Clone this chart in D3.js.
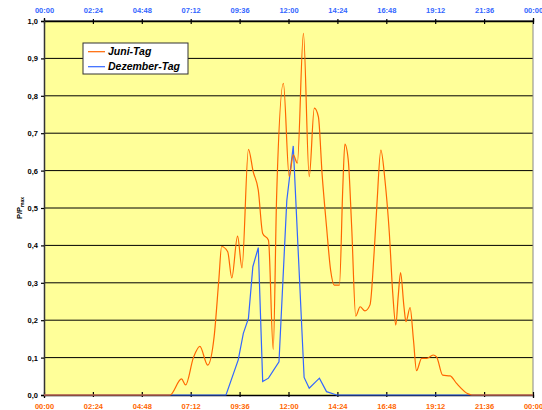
<!DOCTYPE html>
<html>
<head>
<meta charset="utf-8">
<script src="https://cdn.jsdelivr.net/npm/d3@7"></script>
<style>
  body { margin: 0; background: #fff; }
  text { font-family: "Liberation Sans", Arial, sans-serif; }
</style>
</head>
<body>
<div class="chart"></div>
<script>
// tick labels
const xTicks = ["00:00","02:24","04:48","07:12","09:36","12:00","14:24","16:48","19:12","21:36","00:00"]
const yTicks = [0, 0.1, 0.2, 0.3, 0.4, 0.5, 0.6, 0.7, 0.8, 0.9, 1.0]

// Juni-Tag (time of day, P/Pmax)
const juniTimes = ["00:00","06:11","06:45","06:57","07:20","07:39","08:02","08:21","08:35","08:43","09:01","09:13","09:30","09:43",
  "10:02","10:16","10:31","10:44","11:01","11:15","11:25","11:45","12:02","12:14","12:26","12:44","13:01","13:16","13:28",
  "13:39","13:52","14:04","14:15","14:30","14:40","14:46","14:56","15:06","15:18","15:31","15:45","16:00","16:12","16:20",
  "16:32","16:44","16:57","17:07","17:16","17:23","17:30","17:40","17:46","17:58","18:08","18:17","18:32","18:47","19:06",
  "19:16","19:34","19:56","20:15","20:49","21:00","24:00"]
const juniValues = [0, 0, 0.043, 0.027, 0.10, 0.13, 0.08, 0.156, 0.31, 0.397, 0.383, 0.313, 0.425, 0.34,
  0.657, 0.597, 0.548, 0.432, 0.414, 0.122, 0.53, 0.833, 0.584, 0.642, 0.62, 0.967, 0.584, 0.767, 0.744,
  0.59, 0.45, 0.334, 0.294, 0.294, 0.557, 0.671, 0.628, 0.45, 0.211, 0.236, 0.225, 0.241, 0.379, 0.503,
  0.655, 0.575, 0.432, 0.272, 0.187, 0.263, 0.327, 0.236, 0.196, 0.234, 0.147, 0.065, 0.098, 0.098, 0.107,
  0.102, 0.053, 0.051, 0.031, 0.003, 0, 0]

// Dezember-Tag
const dezTimes = ["00:00","08:56","09:32","09:47","10:02","10:15","10:31","10:44","11:01","11:32","11:55","12:14",
  "12:46","13:01","13:31","13:52","14:22","24:00"]
const dezValues = [0, 0, 0.094, 0.165, 0.205, 0.343, 0.394, 0.036, 0.045, 0.089, 0.52, 0.666,
  0.047, 0.018, 0.045, 0.009, 0, 0]

const hours = s => { const [h, m] = s.split(":").map(Number); return h + m / 60 }
const juni = juniTimes.map((t, i) => ({t: hours(t), v: juniValues[i]}))
const dez = dezTimes.map((t, i) => ({t: hours(t), v: dezValues[i]}))

const margin = {top: 21, right: 9, bottom: 15, left: 44}
const width = 542 - margin.left - margin.right
const height = 410 - margin.top - margin.bottom

const svg = d3.select(".chart").append("svg")
    .attr("width", 542)
    .attr("height", 410)
  .append("g")
    .attr("transform", `translate(${margin.left},${margin.top})`)

const x = d3.scaleLinear().domain([0, 24]).range([0, width])
const y = d3.scaleLinear().domain([0, 1]).range([height, 0])

svg.append("rect")
    .attr("width", width)
    .attr("height", height)
    .attr("fill", "#ffff99")

// grid
svg.selectAll(".grid")
    .data(yTicks.slice(1))
    .join("line")
    .attr("class", "grid")
    .attr("x1", 0).attr("x2", width)
    .attr("y1", d => y(d)).attr("y2", d => y(d))
    .attr("stroke", "#000")
    .attr("stroke-width", 1)

// right border
svg.append("line")
    .attr("x1", width).attr("x2", width)
    .attr("y1", 0).attr("y2", height)
    .attr("stroke", "#888")

const tickVals = d3.range(0, 24.01, 2.4)

const xTop = d3.axisTop(x).tickValues(tickVals).tickFormat((d, i) => xTicks[i]).tickSize(3).tickPadding(6)
const xBottom = d3.axisBottom(x).tickValues(tickVals).tickFormat((d, i) => xTicks[i]).tickSize(3).tickPadding(6)
const yAxis = d3.axisLeft(y).tickValues(yTicks).tickFormat(d => d3.format(".1f")(d).replace(".", ",")).tickSize(3).tickPadding(3)

svg.append("g")
    .call(xTop)
    .call(g => g.select(".domain").attr("stroke", "#000").attr("stroke-width", 1.3))
    .call(g => g.selectAll(".tick line").attr("y1", 3).attr("y2", -2).attr("stroke-width", 1.2))
    .call(g => g.selectAll("text").attr("fill", "#3366ff").style("font-size", "7.5px").style("font-weight", "bold").attr("dy", "0.1em"))

svg.append("g")
    .attr("transform", `translate(0,${height})`)
    .call(xBottom)
    .call(g => g.select(".domain").attr("stroke", "#000").attr("stroke-width", 1.3))
    .call(g => g.selectAll(".tick line").attr("y1", -3).attr("y2", 2).attr("stroke-width", 1.2))
    .call(g => g.selectAll("text").attr("fill", "#ff6600").style("font-size", "7.5px").style("font-weight", "bold"))

svg.append("g")
    .call(yAxis)
    .call(g => g.select(".domain").attr("stroke", "#333").attr("stroke-width", 1.5))
    .call(g => g.selectAll(".tick line").attr("stroke-width", 1.2))
    .call(g => g.selectAll("text").attr("fill", "#000").style("font-size", "7.5px").style("font-weight", "bold"))

// y title
const title = svg.append("text")
    .attr("transform", `translate(-22,${y(0.5)}) rotate(-90)`)
    .attr("text-anchor", "middle")
    .style("font-size", "7.5px")
    .style("font-weight", "bold")
title.append("tspan").text("P/P")
title.append("tspan").text("max").attr("dy", "0.3em").style("font-size", "5px")

const lineJuni = d3.line().curve(d3.curveMonotoneX).x(d => x(d.t)).y(d => y(d.v))
const lineDez = d3.line().x(d => x(d.t)).y(d => y(d.v))

svg.append("path")
    .datum(dez)
    .attr("fill", "none")
    .attr("stroke", "#3366ff")
    .attr("stroke-width", 1.2)
    .attr("d", lineDez)

svg.append("path")
    .datum(juni)
    .attr("fill", "none")
    .attr("stroke", "#ff6600")
    .attr("stroke-width", 1.2)
    .attr("d", lineJuni)

// legend
const legend = svg.append("g").attr("transform", "translate(39,22)")
legend.append("rect")
    .attr("width", 105).attr("height", 31)
    .attr("fill", "#fff").attr("stroke", "#333").attr("stroke-width", 1)
const items = [["Juni-Tag", "#ff6600"], ["Dezember-Tag", "#3366ff"]]
items.forEach(([name, col], i) => {
    const yy = 8.7 + i * 15
    legend.append("line")
        .attr("x1", 5).attr("x2", 22)
        .attr("y1", yy).attr("y2", yy)
        .attr("stroke", col).attr("stroke-width", 1.2)
    legend.append("text")
        .attr("x", 25).attr("y", yy)
        .attr("dy", "0.35em")
        .style("font-size", "10.5px")
        .style("font-weight", "bold")
        .style("font-style", "italic")
        .text(name)
})
</script>
</body>
</html>
